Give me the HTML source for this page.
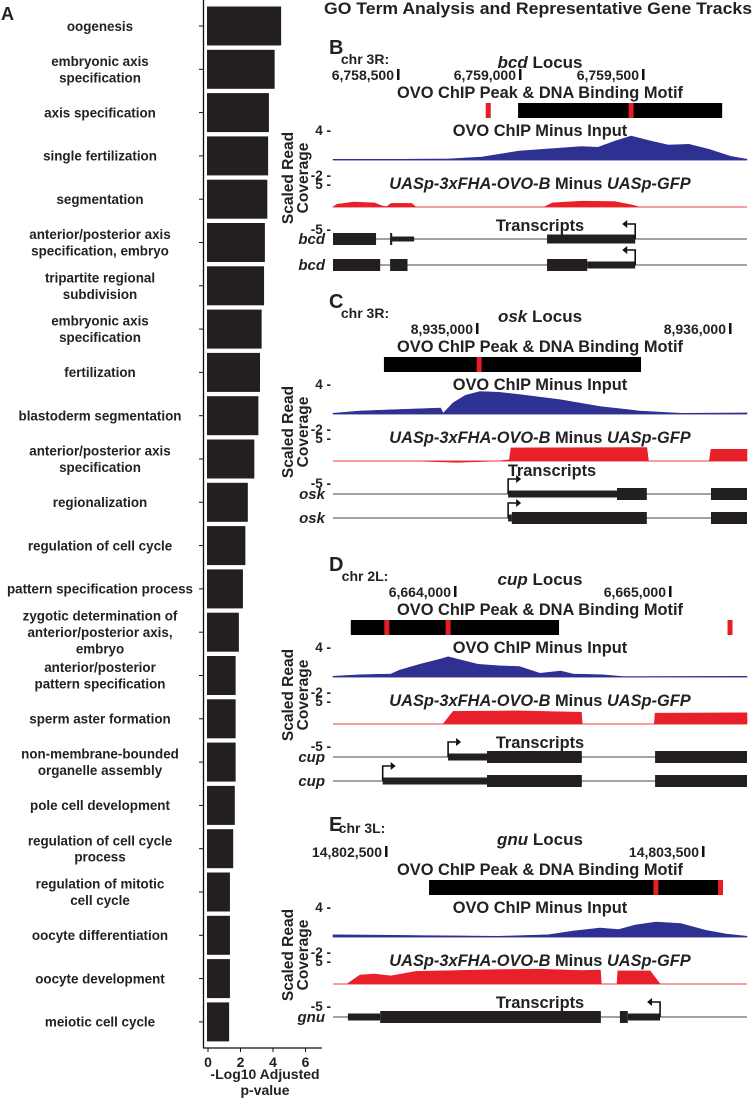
<!DOCTYPE html>
<html><head><meta charset="utf-8">
<style>
html,body{margin:0;padding:0;background:#fff;}
svg{display:block;font-family:"Liberation Sans",Arial,sans-serif;font-weight:bold;}
</style></head>
<body>
<svg id="fig" width="755" height="1098" viewBox="0 0 755 1098" xmlns="http://www.w3.org/2000/svg">
<g id="panelA"></g>
<g id="tracks"></g>
</svg>
<script>
// ---------- Panel A data ----------
const goTerms = [["oogenesis"],["embryonic axis","specification"],["axis specification"],["single fertilization"],["segmentation"],["anterior/posterior axis","specification, embryo"],["tripartite regional","subdivision"],["embryonic axis","specification"],["fertilization"],["blastoderm segmentation"],["anterior/posterior axis","specification"],["regionalization"],["regulation of cell cycle"],["pattern specification process"],["zygotic determination of","anterior/posterior axis,","embryo"],["anterior/posterior","pattern specification"],["sperm aster formation"],["non-membrane-bounded","organelle assembly"],["pole cell development"],["regulation of cell cycle","process"],["regulation of mitotic","cell cycle"],["oocyte differentiation"],["oocyte development"],["meiotic cell cycle"]];
const goValues = [4.5,4.1,3.75,3.7,3.65,3.5,3.45,3.3,3.2,3.1,2.85,2.45,2.3,2.15,1.9,1.7,1.7,1.7,1.65,1.55,1.35,1.35,1.35,1.3];
const xTicks = [0,2,4,6];

// ---------- Track data (positions in % of window) ----------
const bcdBluePos=[0,16,28,36,45,55,60,64,68,72,77,81,86,91,96,100];
const bcdBlueVal=[0.1,0.1,0.15,0.4,1.2,1.6,1.8,1.7,2.5,3.2,2.5,2.0,2.1,1.4,0.5,0.1];
const bcdRedPos=[0,1,5,10,12,13,14,19,20,51,53,60,68,72,74,100];
const bcdRedVal=[0,0.6,1.1,0.9,0.2,0.1,0.8,0.8,0,0,0.9,1.3,1.2,0.5,0,0];
const oskBluePos=[0,6.5,16,26,26.6,29,32,35.5,40,45,55,64.5,74,84,100];
const oskBlueVal=[0.1,0.4,0.6,0.8,0.1,1.5,2.5,3.0,2.9,2.6,1.9,1.0,0.4,0.1,0.15];
const oskRedPos=[0,20,30,40,42.6,43,75.8,76.2,90.9,91.3,100];
const oskRedVal=[0,0,-0.3,0,0.3,2.9,3.0,0,0,2.6,2.6];
const cupBluePos=[0,6.5,14,16,21,26,27.8,35,40,45,50,55,58,65,70,100];
const cupBlueVal=[0.1,0.3,0.4,0.9,1.7,2.4,2.7,1.7,1.5,1.4,0.5,0.8,0.4,0.3,0.05,0.1];
const cupRedPos=[0,26.6,29,45,60,60.2,77.6,77.8,100];
const cupRedVal=[0,0,2.8,2.9,2.6,0,0,2.4,2.5];
const gnuBluePos=[0,20,40,52,58,64.5,69,73,78,84,90,95,100];
const gnuBlueVal=[0.3,0.2,0.1,0.3,0.8,1.2,1.0,1.6,2.0,1.8,0.9,0.4,0.1];
const gnuRedPos=[0,3.4,6.5,10,14,20,30,40,50,60,64.6,64.8,68.6,68.8,76.6,79,100];
const gnuRedVal=[0,0,2.0,2.2,1.8,2.8,3.0,3.2,3.3,3.0,3.1,0,0,2.9,2.9,0,0];

const bcdPeaks=[[44.7,94]]; const bcdMotifs=[72,37.5];
const oskPeaks=[[12.3,74.4]]; const oskMotifs=[35.3];
const cupPeaks=[[4.3,54.6]]; const cupMotifs=[13,27.8,95.9];
const gnuPeaks=[[23.2,93.7]]; const gnuMotifs=[78,93.6];

const bcdTx1=[[0,10.4,2],[13.8,14.3,2],[13.8,19.6,0.6],[51.7,73,1.3]];
const bcdTx2=[[0,11.4,2],[13.8,18,2],[51.7,61.4,2],[61.4,73,1]];
const oskTx1=[[42.3,68.6,1],[68.6,75.8,2],[91.3,100,2]];
const oskTx2=[[42.3,43.2,1],[43.2,75.8,2],[91.3,100,2]];
const cupTx1=[[27.8,37.2,1],[37.2,60.1,2],[77.8,100,2]];
const cupTx2=[[12,37.2,1],[37.2,60.1,2],[77.8,100,2]];
const gnuTx1=[[3.6,11.4,1],[11.4,64.7,2],[69.3,71.2,2],[71.2,79,1]];

const NS="http://www.w3.org/2000/svg";
function mk(tag,attrs,parent,text){const e=document.createElementNS(NS,tag);for(const k in attrs)e.setAttribute(k,attrs[k]);if(text!==undefined)e.textContent=text;parent.appendChild(e);return e;}

// ---------- Panel A ----------
const A=document.getElementById('panelA');
const barX0=208, pxPerUnit=16.25, rowY0=26, rowStep=43.3, barH=39;
function xA(v){return barX0+v*pxPerUnit;}
function yA(i){return rowY0+i*rowStep;}
let t=mk('text',{x:1,y:20,'font-size':18,fill:'#222'},A,'A');


let ax=mk('line',{x1:203.5,y1:0,x2:203.5,y2:1048,stroke:'#111','stroke-width':1.3},A);


let axb=mk('line',{x1:203,y1:1048,x2:322,y2:1048,stroke:'#111','stroke-width':1.3},A);


goValues.forEach((v,i)=>{
  const cy=yA(i);
  const r=mk('rect',{x:barX0-1,y:cy-barH/2,width:xA(v)-barX0+1,height:barH,fill:'#231f20'},A);
  
  
  mk('line',{x1:199,y1:cy,x2:203,y2:cy,stroke:'#111','stroke-width':1},A);
  const lines=goTerms[i];
  const lh=16.4;
  const startY=cy-(lines.length-1)*lh/2;
  const lab=mk('text',{x:100,'text-anchor':'middle','font-size':13.4,fill:'#222'},A);
  
  
  lines.forEach((s,j)=>{mk('tspan',{x:100,y:startY+j*lh+4.8},lab,s);});
});
xTicks.forEach(v=>{
  mk('line',{x1:xA(v),y1:1048,x2:xA(v),y2:1052,stroke:'#111'},A);
  const tl=mk('text',{x:xA(v),y:1067,'text-anchor':'middle','font-size':14,fill:'#222'},A,String(v));
  
  
});
let xt=mk('text',{x:265,y:1079,'text-anchor':'middle','font-size':14,fill:'#222'},A,'-Log10 Adjusted');


mk('text',{x:265,y:1095,'text-anchor':'middle','font-size':14,fill:'#222'},A,'p-value');

// ---------- Tracks ----------
const T=document.getElementById('tracks');
const X0=333,X1=747;
function xs(p){return X0+(X1-X0)*p/100;}
let ttl=mk('text',{x:538,y:14,'text-anchor':'middle','font-size':17,fill:'#222',textLength:428,lengthAdjust:'spacingAndGlyphs'},T,'GO Term Analysis and Representative Gene Tracks');



function covPath(g,pos,val,base,scale,color,name){
  let d='M'+xs(pos[0])+','+base;
  pos.forEach((p,i)=>{d+=' L'+xs(p).toFixed(1)+','+(base-val[i]*scale).toFixed(1);});
  d+=' L'+xs(pos[pos.length-1])+','+base+' Z';
  mk('line',{x1:X0,y1:base,x2:X1,y2:base,stroke:color,'stroke-width':0.8},g);
  const e=mk('path',{d:d,fill:color,stroke:color,'stroke-width':0.6},g);
  
  
}
function txRow(g,feats,y,tss,dir,gene,name){
  const row=mk('g',{},g);
  
  
  mk('line',{x1:X0,y1:y,x2:X1,y2:y,stroke:'#444','stroke-width':1},row);
  feats.forEach(f=>{const h=f[2]>=2?12:(f[2]>=1.3?9:(f[2]>=1?7:5));mk('rect',{x:xs(f[0]),y:y-h/2,width:xs(f[1])-xs(f[0]),height:h,fill:'#231f20'},row);});
  const tx=xs(tss);
  mk('polyline',{points:tx+','+y+' '+tx+','+(y-15)+' '+(tx+dir*8)+','+(y-15),fill:'none',stroke:'#111','stroke-width':1.6},row);
  const ah=tx+dir*8;
  mk('polygon',{points:(ah+dir*5)+','+(y-15)+' '+ah+','+(y-19)+' '+ah+','+(y-11),fill:'#111'},row);
  mk('text',{x:325,y:y+5,'text-anchor':'end','font-size':15,'font-style':'italic',fill:'#222'},row,gene);
}
function panel(o){
  const g=mk('g',{transform:'translate(0,'+o.dy+')'},T);
  
  
  mk('text',{x:329,y:54,'font-size':20,fill:'#222'},g,o.letter);
  mk('text',{x:o.chrX,y:o.chrY,'text-anchor':'middle','font-size':14,fill:'#222'},g,o.chr);
  const lt=mk('text',{x:540,y:68,'text-anchor':'middle','font-size':17,fill:'#222'},g);
  mk('tspan',{'font-style':'italic'},lt,o.gene);mk('tspan',{},lt,' Locus');
  o.ticks.forEach(tk=>{
    mk('rect',{x:tk[0],y:69,width:2.5,height:11,fill:'#111'},g);
    mk('text',{x:tk[0]-3,y:80,'text-anchor':'end','font-size':14,fill:'#222'},g,tk[1]);
  });
  mk('text',{x:540,y:98,'text-anchor':'middle','font-size':16.4,fill:'#222'},g,'OVO ChIP Peak & DNA Binding Motif');
  o.peaks.forEach(p=>{const r=mk('rect',{x:xs(p[0]),y:103,width:xs(p[1])-xs(p[0]),height:15,fill:'#000'},g);});
  o.motifs.forEach(m=>{const r=mk('rect',{x:xs(m)-2.5,y:103,width:5,height:15,fill:'#e31e24'},g);});
  mk('text',{x:331,y:135,'text-anchor':'end','font-size':13.5,fill:'#222'},g,'4 -');
  mk('text',{x:540,y:136,'text-anchor':'middle','font-size':16.4,fill:'#222'},g,'OVO ChIP Minus Input');
  covPath(g,o.bp,o.bv,160,7.5,'#2e3192','chip-coverage');
  mk('text',{x:331,y:180,'text-anchor':'end','font-size':13.5,fill:'#222'},g,'-2 -');
  mk('text',{x:331,y:189,'text-anchor':'end','font-size':13.5,fill:'#222'},g,'5 -');
  const ut=mk('text',{x:540,y:189,'text-anchor':'middle','font-size':16.4,fill:'#222'},g);
  mk('tspan',{'font-style':'italic'},ut,'UASp-3xFHA-OVO-B');mk('tspan',{},ut,' Minus ');mk('tspan',{'font-style':'italic'},ut,'UASp-GFP');
  covPath(g,o.rp,o.rv,207,4.5,'#e8202a','rnaseq-coverage');
  mk('text',{x:331,y:234,'text-anchor':'end','font-size':13.5,fill:'#222'},g,'-5 -');
  mk('text',{x:o.txTitleX||540,y:o.txTitleY||231,'text-anchor':'middle','font-size':16.4,fill:'#222'},g,'Transcripts');
  const sc=mk('text',{transform:'translate(296,178) rotate(-90)','text-anchor':'middle','font-size':15.5,fill:'#222'},g);
  mk('tspan',{x:0,y:-3},sc,'Scaled Read');mk('tspan',{x:0,y:12},sc,'Coverage');
  txRow(g,o.tx1,o.row1,o.tss1,o.dir,o.gene,'transcript-'+o.gene+'-1');
  if(o.tx2)txRow(g,o.tx2,o.row2,o.tss2,o.dir,o.gene,'transcript-'+o.gene+'-2');
}
panel({dy:0,letter:'B',gene:'bcd',chr:'chr 3R:',chrX:365,chrY:64,ticks:[[397,'6,758,500'],[519,'6,759,000'],[642,'6,759,500']],
  peaks:bcdPeaks,motifs:bcdMotifs,bp:bcdBluePos,bv:bcdBlueVal,rp:bcdRedPos,rv:bcdRedVal,
  tx1:bcdTx1,tx2:bcdTx2,row1:239,row2:265,tss1:73,tss2:73,dir:-1});
panel({dy:254,letter:'C',gene:'osk',chr:'chr 3R:',chrX:365,chrY:64,ticks:[[476,'8,935,000'],[729,'8,936,000']],
  peaks:oskPeaks,motifs:oskMotifs,bp:oskBluePos,bv:oskBlueVal,rp:oskRedPos,rv:oskRedVal,
  tx1:oskTx1,tx2:oskTx2,row1:240,row2:264,tss1:42.3,tss2:42.3,dir:1,txTitleX:552,txTitleY:222});
panel({dy:517,letter:'D',gene:'cup',chr:'chr 2L:',chrX:365,chrY:64,ticks:[[454,'6,664,000'],[669,'6,665,000']],
  peaks:cupPeaks,motifs:cupMotifs,bp:cupBluePos,bv:cupBlueVal,rp:cupRedPos,rv:cupRedVal,
  tx1:cupTx1,tx2:cupTx2,row1:240,row2:264,tss1:27.8,tss2:12,dir:1});
panel({dy:777,letter:'E',gene:'gnu',chr:'chr 3L:',chrX:362,chrY:56,ticks:[[385,'14,802,500'],[702,'14,803,500']],
  peaks:gnuPeaks,motifs:gnuMotifs,bp:gnuBluePos,bv:gnuBlueVal,rp:gnuRedPos,rv:gnuRedVal,
  tx1:gnuTx1,row1:240,tss1:79,dir:-1});
</script>
</body></html>
